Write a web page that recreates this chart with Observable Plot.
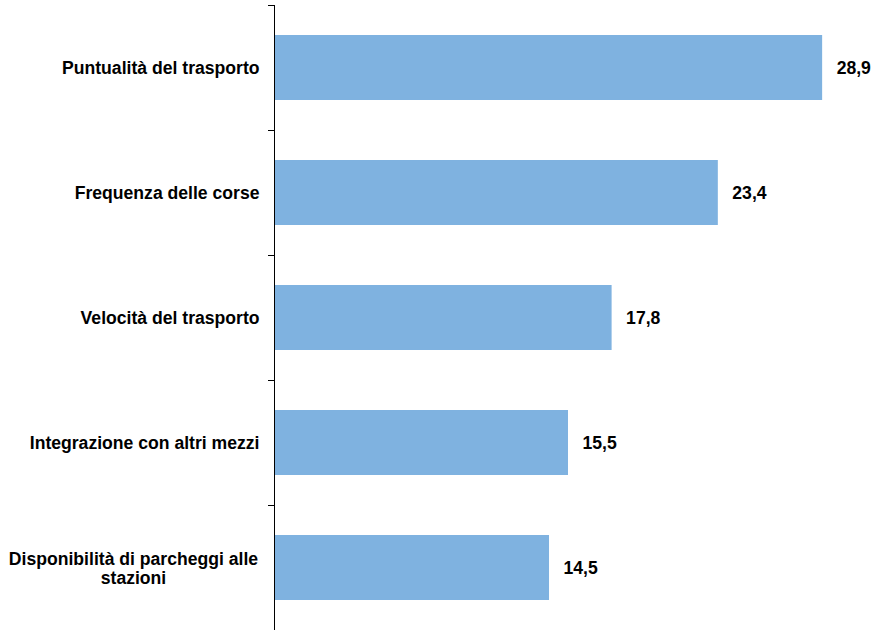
<!DOCTYPE html>
<html>
<head>
<meta charset="utf-8">
<script src="https://cdn.jsdelivr.net/npm/d3@7"></script>
<script src="https://cdn.jsdelivr.net/npm/@observablehq/plot@0.6"></script>
<style>
  html, body { margin: 0; padding: 0; background: #fff; }
  #chart svg { display: block; }
</style>
</head>
<body>
<div id="chart"></div>
<script>
const categories = [
  "Puntualità del trasporto",
  "Frequenza delle corse",
  "Velocità del trasporto",
  "Integrazione con altri mezzi",
  "Disponibilità di parcheggi alle stazioni"
];
const values = [28.9, 23.4, 17.8, 15.5, 14.5];
const wrappedLabels = {
  "Disponibilità di parcheggi alle stazioni": "Disponibilità di parcheggi alle\nstazioni"
};

const data = categories.map((c, i) => ({category: c, value: values[i]}));
const fmt = v => v.toFixed(1).replace(".", ",");

const W = 873, H = 631, mT = 5, mB = 1, mL = 274, mR = 30;
const FS = 17.6;
const step = (H - mT - mB) / categories.length;
const wrapped = Object.keys(wrappedLabels);

const chart = Plot.plot({
  width: W,
  height: H,
  marginTop: mT,
  marginBottom: mB,
  marginLeft: mL,
  marginRight: mR,
  style: {fontFamily: "Arial, 'Liberation Sans', sans-serif", background: "#fff"},
  x: {domain: [0, 30], axis: null},
  y: {domain: categories, paddingInner: 0.48, paddingOuter: 0.24, label: null},
  marks: [
    Plot.barX(data, {x: "value", y: "category", fill: "#7fb2e0"}),
    Plot.text(data, {
      x: "value", y: "category", text: d => fmt(d.value),
      textAnchor: "start", dx: 14, fontSize: FS, fontWeight: "bold", fill: "#000"
    }),
    // boundary tick marks
    Plot.axisY({
      tickSize: 6, text: null, dy: -step / 2, stroke: "#000"
    }),
    // category labels (single line, right aligned)
    Plot.axisY(categories.filter(c => !wrapped.includes(c)), {
      tickSize: 0, tickPadding: 15, fontSize: FS, fontWeight: "bold", fill: "#000", label: null
    }),
    // wrapped label, centered lines
    Plot.axisY(wrapped, {
      tickSize: 0, tickPadding: 15, fontSize: FS, fontWeight: "bold", fill: "#000", label: null,
      tickFormat: c => wrappedLabels[c], textAnchor: "middle", dx: -126, lineHeight: 1.1
    }),
    Plot.ruleX([0], {stroke: "#000", strokeWidth: 1})
  ]
});
document.getElementById("chart").appendChild(chart);
</script>
</body>
</html>
